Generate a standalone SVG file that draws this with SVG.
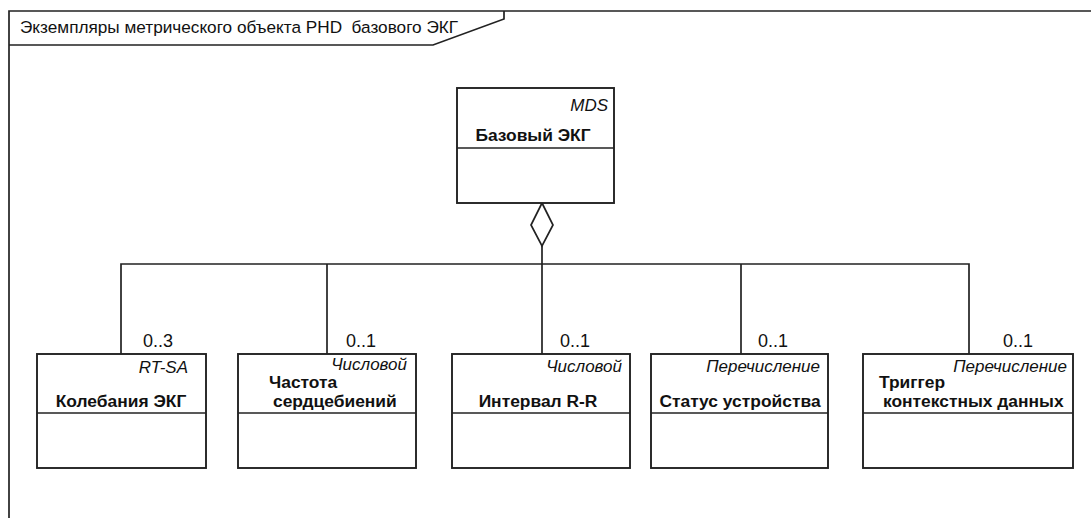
<svg xmlns="http://www.w3.org/2000/svg" width="1091" height="518" viewBox="0 0 1091 518">
<style>
.ln{fill:none;stroke:#222;stroke-width:1.7}
.bx{fill:#fff;stroke:#222;stroke-width:1.9}
.t{font-family:"Liberation Sans",Arial,sans-serif;fill:#111}
.ttl{font-size:17.2px}
.st{font-size:17px;font-style:italic;text-anchor:end}
.nm{font-size:17.4px;font-weight:bold}
.mu{font-size:18px}
</style>
<rect width="1091" height="518" fill="#fff"/>
<g id="frame">
<path class="ln" d="M9,518 V11 H1091"/>
<path class="ln" d="M9,45 H433 L504,19 V11"/>
<text class="t ttl" x="20" y="33" xml:space="preserve">Экземпляры метрического объекта PHD&#160; базового ЭКГ</text>
</g>
<g id="connectors">
<path class="ln" d="M542,246 V354"/>
<path class="ln" d="M121,354 V264 H969 V354"/>
<path class="ln" d="M327,264 V354"/>
<path class="ln" d="M741,264 V354"/>
<path class="ln" d="M542,203 L553,225 L542,246 L531,225 Z" fill="#fff"/>
<text class="t mu" x="143" y="347">0..3</text>
<text class="t mu" x="346" y="347">0..1</text>
<text class="t mu" x="560" y="347">0..1</text>
<text class="t mu" x="758" y="347">0..1</text>
<text class="t mu" x="1003" y="347">0..1</text>
</g>
<g id="mds">
<rect class="bx" x="457" y="88" width="157" height="115"/>
<path class="ln" d="M457,148 H614"/>
<text class="t st" x="608" y="111">MDS</text>
<text class="t nm" x="533" y="141" text-anchor="middle">Базовый ЭКГ</text>
</g>
<g id="ecg-wave">
<rect class="bx" x="37" y="354" width="169" height="114"/>
<path class="ln" d="M37,413 H206"/>
<text class="t st" x="188" y="373">RT-SA</text>
<text class="t nm" x="121" y="407" text-anchor="middle">Колебания ЭКГ</text>
</g>
<g id="heart-rate">
<rect class="bx" x="238" y="354" width="178" height="114"/>
<path class="ln" d="M238,413 H416"/>
<text class="t st" x="407" y="370">Числовой</text>
<text class="t nm" x="269" y="388">Частота</text>
<text class="t nm" x="273" y="407">сердцебиений</text>
</g>
<g id="rr-interval">
<rect class="bx" x="452" y="354" width="178" height="114"/>
<path class="ln" d="M452,413 H630"/>
<text class="t st" x="622" y="372">Числовой</text>
<text class="t nm" x="538" y="407" text-anchor="middle">Интервал R-R</text>
</g>
<g id="device-status">
<rect class="bx" x="651" y="354" width="177" height="114"/>
<path class="ln" d="M651,413 H828"/>
<text class="t st" x="820" y="372">Перечисление</text>
<text class="t nm" x="740" y="407" text-anchor="middle">Статус устройства</text>
</g>
<g id="context-trigger">
<rect class="bx" x="863" y="354" width="210" height="114"/>
<path class="ln" d="M863,413 H1073"/>
<text class="t st" x="1067" y="372">Перечисление</text>
<text class="t nm" x="879" y="388">Триггер</text>
<text class="t nm" x="883" y="407">контекстных данных</text>
</g>
</svg>
